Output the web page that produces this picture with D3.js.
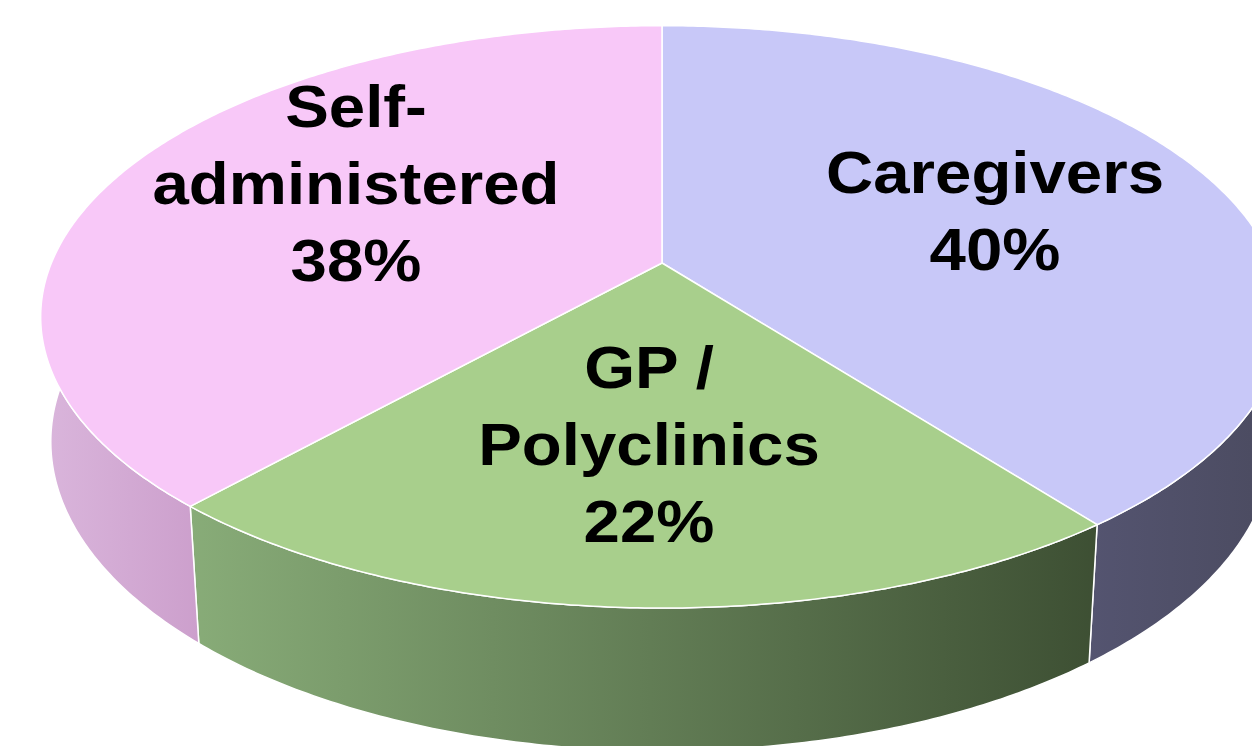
<!DOCTYPE html>
<html>
<head>
<meta charset="utf-8">
<script src="https://cdn.jsdelivr.net/npm/d3@7"></script>
<style>
  html, body { margin: 0; padding: 0; background: #fff; }
  svg { display: block; }
</style>
</head>
<body>
<svg id="chart" width="1252" height="746"></svg>
<script>
// data
const categories = ['Caregivers', 'GP / Polyclinics', 'Self-administered'];
const values = [39.6, 22.0, 38.4];
const labelLines = [['Caregivers'], ['GP /', 'Polyclinics'], ['Self-', 'administered']];

const topColors = ['#c8c8f8', '#a8cf8c', '#f8c8f8'];

const width = 1252, height = 746;
const svg = d3.select('#chart');

// perspective of the tilted disk: theta clockwise from top, z 0 = top face, 1 = bottom
const cx = 662, cy = 263;
const A = 610.6, B = 281.2, k = 0.185, depthC = 124.3, depthE = 0.016;
function proj(theta, r, z) {
	let u = r * Math.sin(theta), v = r * Math.cos(theta);
	let w = 1 + k * v + depthE * z;
	return [cx + A * u / w, cy + (-B * v + depthC * z) / w];
}

function arcPoints(a0, a1, z) {
	let n = Math.max(8, Math.ceil(Math.abs(a1 - a0) / 0.01));
	let pts = [];
	for (let i = 0; i <= n; i++) pts.push(proj(a0 + (a1 - a0) * i / n, 1, z));
	return pts;
}

const line = d3.line();

const pie = d3.pie().sort(null).value(d => d.value);
const arcs = pie(categories.map((c, i) => ({ name: c, value: values[i], lines: labelLines[i], color: topColors[i] })));

// wall gradients
const defs = svg.append('defs');
const wallGrads = [
	{ id: 'wall0', x1: 1090, x2: 1252, stops: ['#545470', '#4c4c62'] },
	{ id: 'wall1', x1: 190, x2: 1100, stops: ['#88ac78', '#3d4f33'] },
	{ id: 'wall2', x1: 40, x2: 200, stops: ['#dab6dc', '#cc9fcc'] }
];
wallGrads.forEach(g => {
	let lg = defs.append('linearGradient')
		.attr('id', g.id)
		.attr('gradientUnits', 'userSpaceOnUse')
		.attr('x1', g.x1).attr('x2', g.x2).attr('y1', 0).attr('y2', 0);
	lg.append('stop').attr('offset', 0).attr('stop-color', g.stops[0]);
	lg.append('stop').attr('offset', 1).attr('stop-color', g.stops[1]);
});

// side walls
svg.append('g').selectAll('path')
	.data(arcs)
	.enter()
		.append('path')
		.attr('d', d => {
			let pts = arcPoints(d.startAngle, d.endAngle, 0)
				.concat(arcPoints(d.endAngle, d.startAngle, 1));
			return line(pts) + 'Z';
		})
		.attr('fill', (d, i) => `url(#wall${i})`)
		.attr('stroke', '#fff')
		.attr('stroke-width', 1.5)
		.attr('stroke-linejoin', 'round');

// top faces
svg.append('g').selectAll('path')
	.data(arcs)
	.enter()
		.append('path')
		.attr('d', d => line([[cx, cy]].concat(arcPoints(d.startAngle, d.endAngle, 0))) + 'Z')
		.attr('fill', d => d.data.color)
		.attr('stroke', '#fff')
		.attr('stroke-width', 1.5)
		.attr('stroke-linejoin', 'round');

// labels
const labelPos = [[995, 193], [649, 388], [356, 127]];
const lineH = 77;
const fmt = v => Math.round(v) + '%';

const labels = svg.append('g')
	.attr('font-family', '"Liberation Sans", Arial, sans-serif')
	.attr('font-weight', 'bold')
	.attr('font-size', 60)
	.attr('fill', '#000')
	.attr('text-anchor', 'middle');

arcs.forEach((d, i) => {
	let g = labels.append('g')
		.attr('transform', `translate(${labelPos[i][0]},${labelPos[i][1]}) scale(1.09,1)`);
	let lines = d.data.lines.concat([fmt(d.data.value)]);
	lines.forEach((t, j) => {
		g.append('text')
			.attr('x', 0)
			.attr('y', j * lineH)
			.text(t);
	});
});
</script>
</body>
</html>
